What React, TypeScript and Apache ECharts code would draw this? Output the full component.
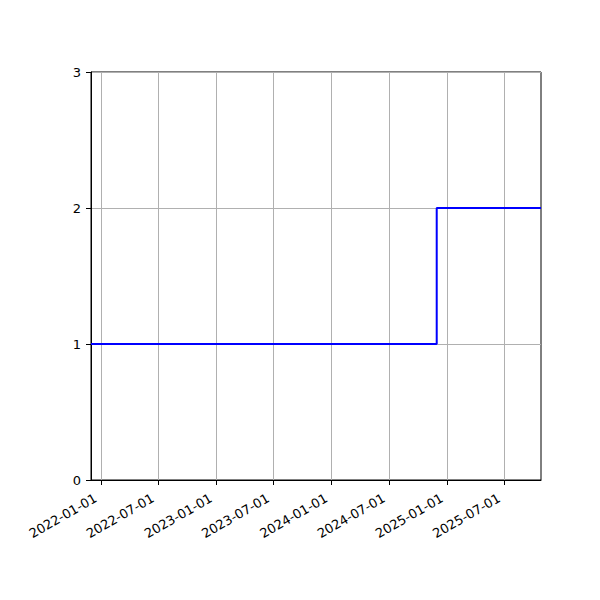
import { useEffect, useRef } from "react";
import * as echarts from "echarts";

// step data: value holds from each date until the next one
const dates = ["2021-12-01", "2024-11-29", "2025-10-25"];
const counts = [1, 2, 2];

const xTickDates = [
  "2022-01-01",
  "2022-07-01",
  "2023-01-01",
  "2023-07-01",
  "2024-01-01",
  "2024-07-01",
  "2025-01-01",
  "2025-07-01",
];
const yTicks = [0, 1, 2, 3];

const ts = (d: string) => Date.parse(d + "T00:00:00Z");
const fmt = (v: number) => new Date(v).toISOString().slice(0, 10);

const FONT = "DejaVu Sans";

export default function App() {
  const ref = useRef<HTMLDivElement>(null);

  useEffect(() => {
    if (!ref.current) return;
    const chart = echarts.init(ref.current, undefined, { renderer: "svg" });
    const xTicks = xTickDates.map(ts);
    chart.setOption({
      animation: false,
      textStyle: { fontFamily: FONT },
      grid: {
        left: 91,
        top: 72,
        width: 450,
        height: 408,
        show: true,
        borderColor: "#000",
        borderWidth: 1,
        backgroundColor: "transparent",
      },
      // timestamps on a plain value axis, so the ticks can sit on exact dates
      xAxis: {
        type: "value",
        min: ts(dates[0]),
        max: ts(dates[dates.length - 1]),
        axisLine: { show: true, onZero: false, lineStyle: { color: "#000", width: 1 } },
        axisTick: { show: true, length: 5, customValues: xTicks, lineStyle: { color: "#000" } },
        axisLabel: {
          customValues: xTicks,
          formatter: (v: number) => fmt(v),
          rotate: 30,
          margin: 14,
          padding: [0, 6, 0, 0],
          color: "#000",
          fontSize: 13,
          fontFamily: FONT,
          hideOverlap: false,
        },
        splitLine: { show: true, lineStyle: { color: "#b0b0b0", width: 1 } },
      },
      yAxis: {
        type: "value",
        min: yTicks[0],
        max: yTicks[yTicks.length - 1],
        interval: 1,
        axisLine: { show: true, lineStyle: { color: "#000", width: 1 } },
        axisTick: { show: true, length: 5, lineStyle: { color: "#000" } },
        axisLabel: { color: "#000", fontSize: 13, fontFamily: FONT, margin: 10 },
        splitLine: { show: true, lineStyle: { color: "#b0b0b0", width: 1 } },
      },
      series: [
        {
          type: "line",
          step: "end",
          showSymbol: false,
          lineStyle: { color: "#0000ff", width: 2 },
          data: dates.map((d, i) => [ts(d), counts[i]]),
        },
      ],
    });
    return () => chart.dispose();
  }, []);

  return (
    <div
      ref={ref}
      style={{ position: "fixed", left: 0, top: 0, width: 600, height: 600, background: "#fff" }}
    />
  );
}
